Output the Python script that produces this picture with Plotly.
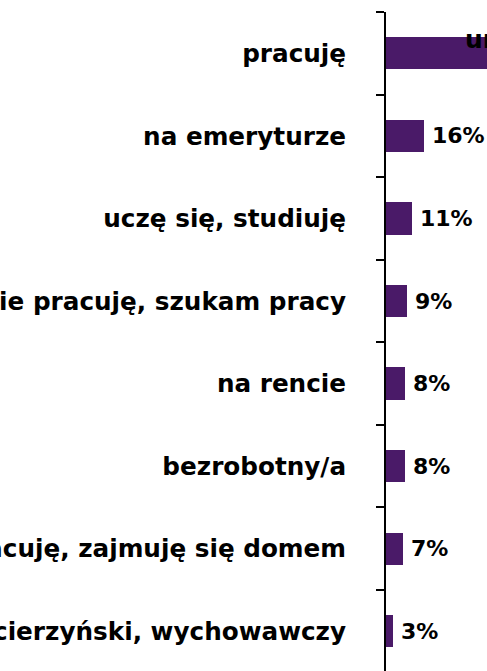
import plotly.graph_objects as go

categories = [
    "pracuję",
    "na emeryturze",
    "uczę się, studiuję",
    "nie pracuję, szukam pracy",
    "na rencie",
    "bezrobotny/a",
    "nie pracuję, zajmuję się domem",
    "urlop macierzyński, wychowawczy",
]
values = [44, 16, 11, 9, 8, 8, 7, 3]
value_labels = ["44%", "16%", "11%", "9%", "8%", "8%", "7%", "3%"]

BAR_COLOR = "#4A1A68"
FONT = "DejaVu Sans"

fig = go.Figure()
fig.add_trace(go.Bar(
    x=values,
    y=categories,
    orientation="h",
    marker=dict(color=BAR_COLOR, line=dict(width=0)),
    width=0.39,
    hoverinfo="skip",
))

for cat, v, lab in zip(categories, values, value_labels):
    fig.add_annotation(
        x=v, y=cat, xref="x", yref="y",
        text="<b>%s</b>" % lab,
        showarrow=False, xanchor="left", yanchor="middle",
        xshift=6,
        font=dict(family=FONT, size=22, color="#000000"),
    )

# partially visible text at the top-right edge
fig.add_annotation(
    x=1.0, y=1.0, xref="paper", yref="paper",
    text="<b>ur</b>", showarrow=False,
    xanchor="left", yanchor="top", xshift=-24, yshift=-11,
    font=dict(family=FONT, size=25, color="#000000"),
)

fig.update_layout(
    width=487, height=671,
    margin=dict(l=386, r=0, t=12, b=0, autoexpand=False),
    paper_bgcolor="white", plot_bgcolor="white",
    showlegend=False,
    bargap=0,
)

fig.update_xaxes(
    range=[0, 42.6], visible=False, fixedrange=True,
)
fig.update_yaxes(
    type="category",
    categoryorder="array", categoryarray=categories,
    range=[7.481, -0.5],
    showline=True, linecolor="#000000", linewidth=2,
    ticks="outside", tickson="boundaries", ticklen=8, tickwidth=2, tickcolor="#000000",
    ticklabelstandoff=33,
    tickfont=dict(family=FONT, size=24.7, color="#000000", weight="bold"),
    showgrid=False, zeroline=False, automargin=False, fixedrange=True,
)

fig.write_html(
    "out.html",
    config={"displayModeBar": False, "staticPlot": True},
    post_script=(
        "document.body.style.margin='0';"
        "document.body.style.overflow='hidden';"
        "document.documentElement.style.overflow='hidden';"
    ),
)
